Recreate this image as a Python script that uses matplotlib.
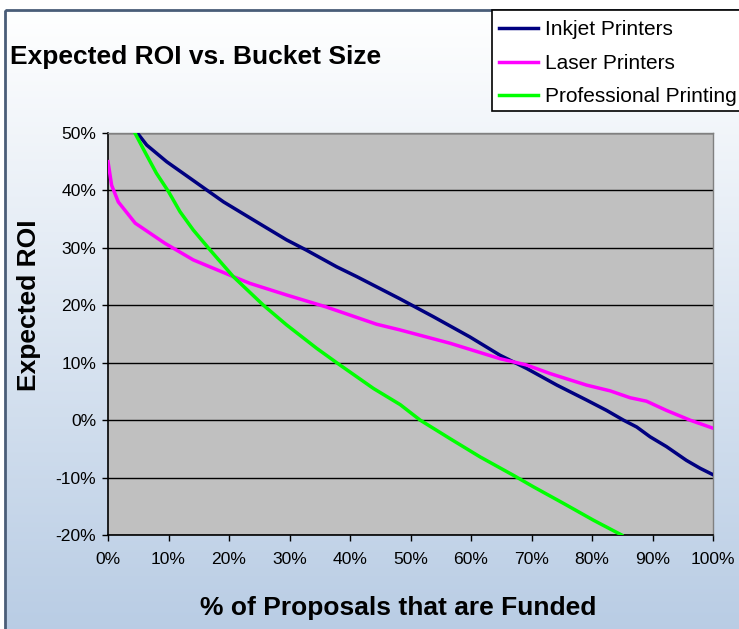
import matplotlib
matplotlib.use("Agg")
import matplotlib.pyplot as plt
import numpy as np
from matplotlib.patches import Rectangle

plt.rcParams["font.family"] = ["Liberation Sans", "DejaVu Sans"]

# Share of proposals funded (%) against expected ROI (%) for each product line
inkjet_x = [4.7, 6.4, 9.7, 13.6, 19.1, 24.6, 29.5, 32.8, 37.8, 41.1, 48.3, 53.8, 59.8,
            64.8, 69.2, 74.2, 79.1, 82.4, 85.2, 87.4, 89.6, 92.3, 95.6, 97.9, 100.0]
inkjet_y = [50.2, 47.9, 45.0, 42.1, 38.0, 34.5, 31.4, 29.6, 26.7, 25.0, 21.1, 18.0, 14.5,
            11.3, 9.0, 6.1, 3.5, 1.7, 0.0, -1.2, -2.9, -4.6, -7.0, -8.4, -9.5]

laser_x = [0.0, 0.6, 1.7, 4.5, 9.4, 14.1, 20.7, 23.5, 29.5, 36.1, 44.4, 48.3, 56.5,
           64.8, 69.2, 73.1, 79.1, 83.0, 86.3, 89.0, 92.3, 96.2, 100.0]
laser_y = [45.0, 40.9, 38.0, 34.3, 30.8, 27.9, 25.0, 23.8, 21.8, 19.7, 16.7, 15.7, 13.4,
           10.7, 9.6, 8.1, 6.1, 5.1, 3.9, 3.3, 1.7, 0.0, -1.4]

pro_x = [4.5, 6.1, 8.0, 10.0, 11.9, 14.1, 16.9, 20.7, 25.7, 29.5, 34.5, 37.8, 43.9,
         48.3, 51.6, 56.5, 61.5, 67.0, 70.3, 75.3, 80.2, 84.9]
pro_y = [49.9, 46.7, 43.0, 39.8, 36.3, 33.1, 29.6, 25.0, 20.0, 16.6, 12.5, 10.0, 5.5,
         2.7, 0.0, -3.2, -6.4, -9.6, -11.6, -14.5, -17.4, -20.0]

series_names = ["Inkjet Printers", "Laser Printers", "Professional Printing"]
series_colors = ["#000080", "#ff00ff", "#00ff00"]

x_ticks = [0, 10, 20, 30, 40, 50, 60, 70, 80, 90, 100]
x_tick_labels = ["0%", "10%", "20%", "30%", "40%", "50%", "60%", "70%", "80%", "90%", "100%"]
y_ticks = [-20, -10, 0, 10, 20, 30, 40, 50]
y_tick_labels = ["-20%", "-10%", "0%", "10%", "20%", "30%", "40%", "50%"]

W, H = 739, 629
fig = plt.figure(figsize=(W / 100, H / 100), dpi=100)
fig.patch.set_facecolor("white")

# Chart area: pale blue gradient with a dark frame, drawn in pixel coordinates
bg = fig.add_axes([0, 0, 1, 1], zorder=-1)
bg.set_xlim(0, W)
bg.set_ylim(H, 0)
bg.axis("off")
grad = np.linspace(0, 1, 256).reshape(-1, 1)
top = np.array([1.0, 1.0, 1.0])
bottom = np.array([0xb8, 0xcc, 0xe4]) / 255
img = top + grad[..., None] * (bottom - top)
bg.imshow(img, extent=[5, W + 10, H + 10, 10], aspect="auto", zorder=0)
bg.add_patch(Rectangle((5, 10), W + 10, H + 10, fill=False, edgecolor="#4a5d78", linewidth=2, zorder=1))
# legend box runs off the right edge
bg.add_patch(Rectangle((492, 10), 300, 101, facecolor="white", edgecolor="black", linewidth=1.2, zorder=2))

# Plot area
ax = fig.add_axes([108 / W, 1 - 535 / H, 605 / W, 402 / H])
ax.set_facecolor("#c0c0c0")
ax.plot(inkjet_x, inkjet_y, color=series_colors[0], linewidth=2.5, label=series_names[0], zorder=3)
ax.plot(laser_x, laser_y, color=series_colors[1], linewidth=2.5, label=series_names[1], zorder=3)
ax.plot(pro_x, pro_y, color=series_colors[2], linewidth=2.5, label=series_names[2], zorder=3)

ax.set_xlim(0, 100)
ax.set_ylim(-20, 50)
ax.set_xticks(x_ticks)
ax.set_xticklabels(x_tick_labels)
ax.set_yticks(y_ticks)
ax.set_yticklabels(y_tick_labels)
ax.yaxis.grid(True, color="black", linewidth=1)
ax.set_axisbelow(True)
ax.tick_params(axis="both", direction="out", length=4, width=1, labelsize=12.6, colors="black")
ax.tick_params(axis="x", pad=8.5)
ax.tick_params(axis="y", pad=4.5)
for side in ["left", "bottom"]:
    ax.spines[side].set_color("black")
    ax.spines[side].set_linewidth(1.2)
for side in ["top", "right"]:
    ax.spines[side].set_color("#808080")
    ax.spines[side].set_linewidth(1)

# Titles
fig.text(10 / W, 1 - 64 / H, "Expected ROI vs. Bucket Size", fontsize=19, fontweight="bold",
         ha="left", va="baseline")
fig.text(398.5 / W, 1 - 615 / H, "% of Proposals that are Funded", fontsize=19, fontweight="bold",
         ha="center", va="baseline")
fig.text(29 / W, 1 - 305 / H, "Expected ROI", fontsize=19, fontweight="bold", rotation=90,
         ha="center", va="center")

fig.legend(loc="upper left", bbox_to_anchor=(492 / W, 1 - 13 / H), bbox_transform=fig.transFigure,
           fontsize=15, frameon=False, borderpad=0.35, labelspacing=0.7, handlelength=1.85,
           handletextpad=0.35, borderaxespad=0)

fig.savefig("out.png", dpi=100)
